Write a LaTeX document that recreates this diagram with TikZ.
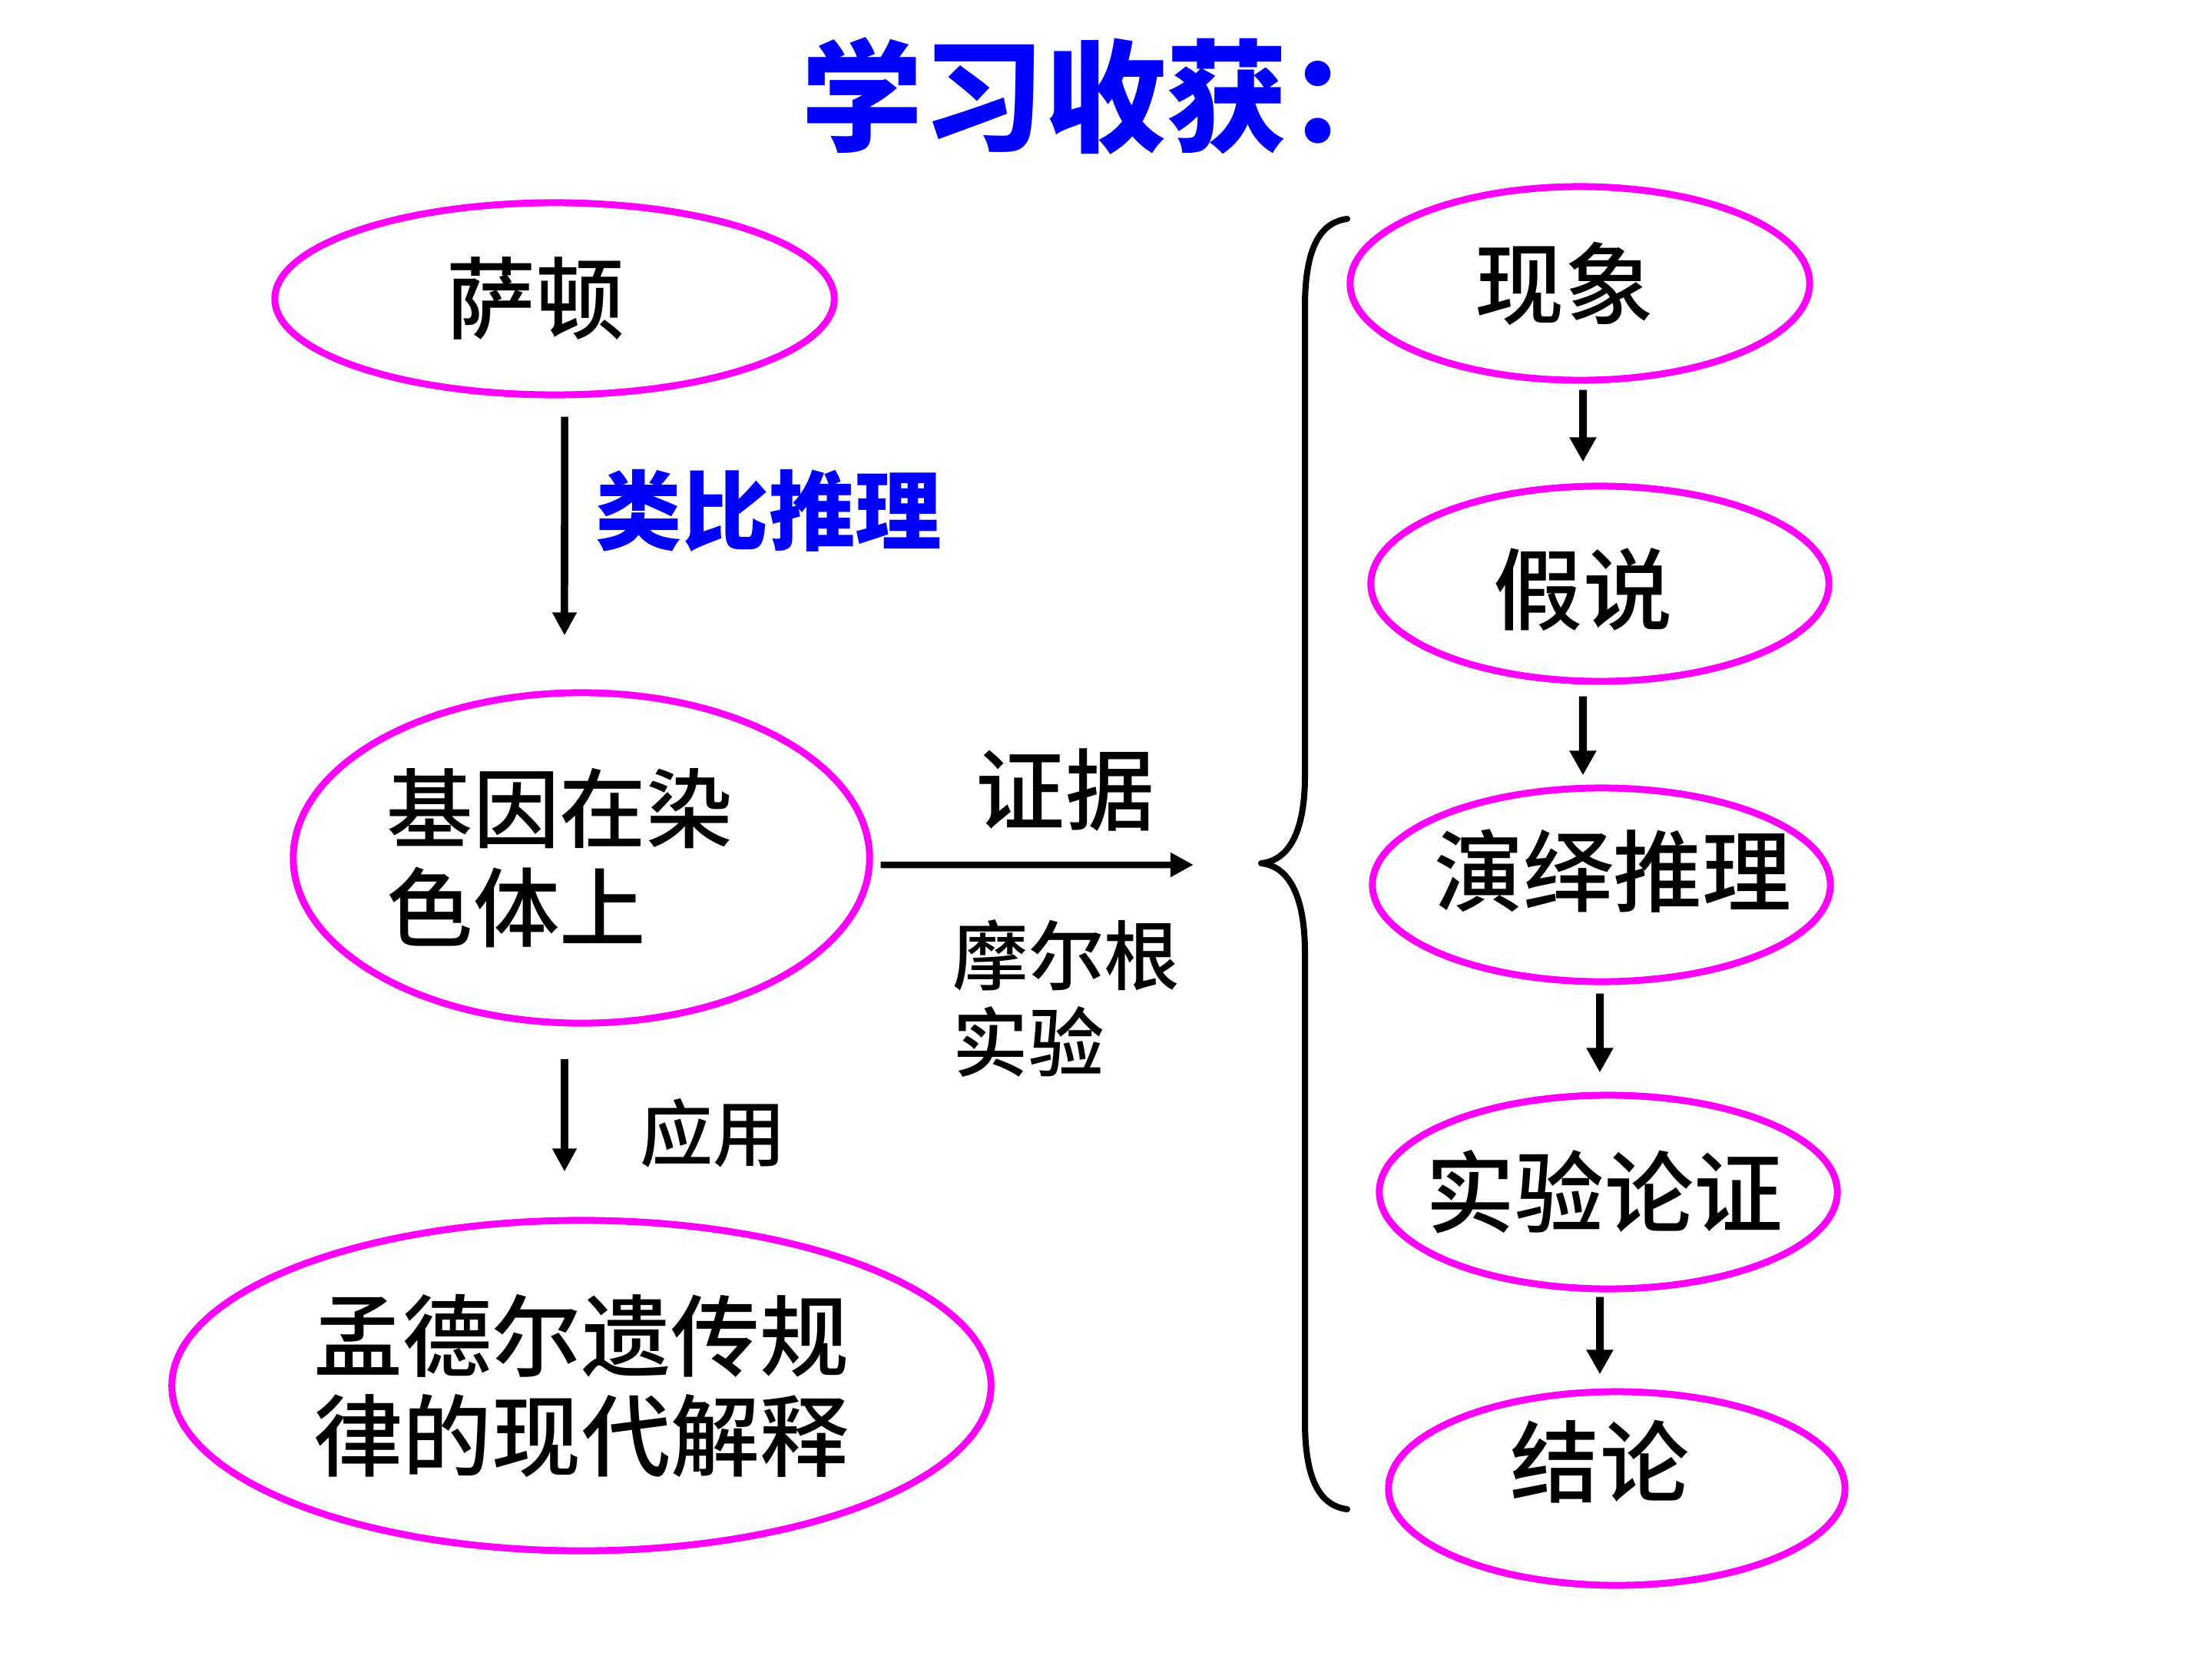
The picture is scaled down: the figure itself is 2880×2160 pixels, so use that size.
\documentclass[tikz,border=0pt]{standalone}
\usepackage{fontspec}
\usepackage{tikz}
\usepackage{xcolor}
\usetikzlibrary{arrows.meta,shapes.geometric,calc}
\newfontfamily\cjk{Noto Sans CJK SC}
\IfFontExistsTF{Noto Sans CJK SC Medium}
  {\newfontfamily\cjkmid{Noto Sans CJK SC Medium}}
  {\newfontfamily\cjkmid{Noto Sans CJK SC}}
\definecolor{ringpink}{HTML}{FF00FF}
\definecolor{titleblue}{HTML}{0000FF}
\newcommand{\lift}[2]{\raisebox{#1}[\height][\depth]{#2}}
\tikzset{
  ringnode/.style={
    draw=ringpink,
    line width=0.09cm,
    ellipse,
    inner xsep=-1cm,
    inner ysep=0pt,
    align=center,
    font=\cjkmid\fontsize{33}{37}\selectfont
  },
  linkarrow/.style={-{Triangle[length=0.3cm,width=0.3cm]}, line width=0.095cm, draw=black},
  steparrow/.style={-{Triangle[length=0.32cm,width=0.33cm]}, line width=0.1cm, draw=black},
  bracepath/.style={line width=0.08cm, draw=black, line join=round, line cap=round},
  linklabel/.style={font=\cjkmid\fontsize{33}{37}\selectfont, inner sep=0pt}
}

\begin{document}
\begin{tikzpicture}[x=0.01cm, y=-0.01cm]
\useasboundingbox (0,0) rectangle (2880,2160);
\fill[white] (0,0) rectangle (2880,2160);

\node[font=\cjk\bfseries\fontsize{45}{50}\selectfont, text=titleblue, anchor=west, inner sep=0pt] (title) at (1043,125) {学习收获：};

% left column
\node[ringnode, minimum width=7.28cm, minimum height=2.5cm] (satton) at (722,389) {萨顿\hspace*{0.48cm}};
\node[ringnode, minimum width=7.5cm, minimum height=4.3cm, align=left,
      font=\cjkmid\fontsize{32}{36.5}\selectfont] (chromo) at (757,1117) {基因在染\hspace*{0.56cm}\\色体上};
\node[ringnode, minimum width=10.66cm, minimum height=4.3cm, align=left] (mendel) at (757,1804) {孟德尔遗传规\\律的现代解释};

% right column
\node[ringnode, minimum width=5.98cm, minimum height=2.52cm] (phenom) at (2057,369) {现象\hspace*{0.4cm}};
\node[ringnode, minimum width=5.96cm, minimum height=2.54cm] (hypo) at (2083,760) {\lift{-0.08cm}{假说}\hspace*{0.44cm}};
\node[ringnode, minimum width=5.96cm, minimum height=2.52cm] (deduce) at (2085,1152) {\hspace*{0.3cm}\lift{0.18cm}{演绎推理}};
\node[ringnode, minimum width=5.96cm, minimum height=2.52cm] (verify) at (2094,1552) {实验论证\hspace*{0.1cm}};
\node[ringnode, minimum width=5.94cm, minimum height=2.52cm] (concl) at (2105,1938) {\lift{0.35cm}{结论}\hspace*{0.44cm}};

% labels
\node[linklabel, font=\cjk\bfseries\fontsize{32}{36}\selectfont, text=titleblue] (analogy) at (1001,665) {类比推理};
\node[linklabel] (evidence) at (1387,1029) {证据};
\node[linklabel, anchor=west, align=left, font=\cjkmid\fontsize{28}{32}\selectfont] (morgan) at (1240,1300) {摩尔根\\实验};
\node[linklabel, font=\cjkmid\fontsize{27}{31}\selectfont] (apply) at (928,1475) {应用};

% brace
\coordinate (bracetip) at (1642,1124);
\draw[bracepath] (1754,285) .. controls (1715,290) and (1699,330) .. (1699,400)
  -- (1699,1010) .. controls (1699,1080) and (1680,1120) .. (bracetip)
  .. controls (1680,1128) and (1699,1170) .. (1699,1240)
  -- (1699,1850) .. controls (1699,1920) and (1715,1960) .. (1754,1965);

% connectors
\draw[linkarrow] ([xshift=0.13cm,yshift=-0.24cm]satton.south) -- ([xshift=-0.22cm,yshift=0.7cm]chromo.north);
\draw[linkarrow] ([xshift=-0.22cm,yshift=-0.42cm]chromo.south) -- ([xshift=-0.22cm,yshift=0.59cm]mendel.north);
\draw[linkarrow, line width=0.085cm] ([xshift=0.1cm,yshift=-0.09cm]chromo.east) -- ([xshift=-0.88cm,yshift=-0.02cm]bracetip);

\draw[steparrow] ([xshift=0.04cm,yshift=-0.08cm]phenom.south) -- ([xshift=-0.22cm,yshift=0.27cm]hypo.north);
\draw[steparrow] ([xshift=-0.22cm,yshift=-0.15cm]hypo.south) -- ([xshift=-0.24cm,yshift=0.12cm]deduce.north);
\draw[steparrow] ([xshift=-0.02cm,yshift=-0.11cm]deduce.south) -- ([xshift=-0.11cm,yshift=0.25cm]verify.north);
\draw[steparrow] ([xshift=-0.11cm,yshift=-0.06cm]verify.south) -- ([xshift=-0.22cm,yshift=0.18cm]concl.north);
\end{tikzpicture}
\end{document}
